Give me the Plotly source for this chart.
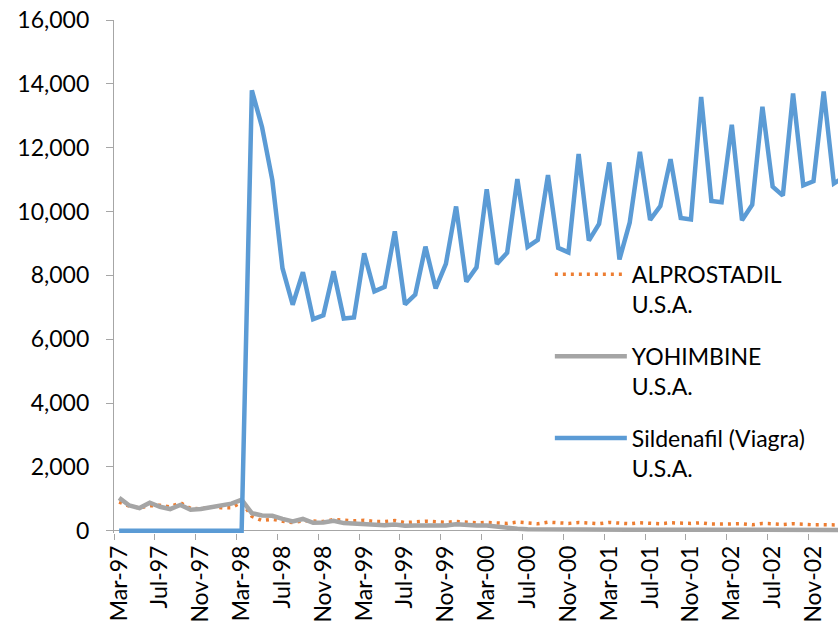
import plotly.graph_objects as go

months = [
    "Mar-97", "Apr-97", "May-97", "Jun-97", "Jul-97", "Aug-97", "Sep-97", "Oct-97", "Nov-97", "Dec-97",
    "Jan-98", "Feb-98", "Mar-98", "Apr-98", "May-98", "Jun-98", "Jul-98", "Aug-98", "Sep-98", "Oct-98",
    "Nov-98", "Dec-98", "Jan-99", "Feb-99", "Mar-99", "Apr-99", "May-99", "Jun-99", "Jul-99", "Aug-99",
    "Sep-99", "Oct-99", "Nov-99", "Dec-99", "Jan-00", "Feb-00", "Mar-00", "Apr-00", "May-00", "Jun-00",
    "Jul-00", "Aug-00", "Sep-00", "Oct-00", "Nov-00", "Dec-00", "Jan-01", "Feb-01", "Mar-01", "Apr-01",
    "May-01", "Jun-01", "Jul-01", "Aug-01", "Sep-01", "Oct-01", "Nov-01", "Dec-01", "Jan-02", "Feb-02",
    "Mar-02", "Apr-02", "May-02", "Jun-02", "Jul-02", "Aug-02", "Sep-02", "Oct-02", "Nov-02", "Dec-02",
    "Jan-03", "Feb-03",
]

alprostadil = [
    900, 770, 720, 780, 800, 750, 880, 700, 690, 750,
    720, 720, 890, 450, 320, 360, 300, 255, 313, 310,
    292, 350, 320, 313, 330, 292, 292, 320, 255, 271,
    300, 282, 261, 292, 271, 250, 261, 240, 230, 271,
    240, 220, 270, 240, 230, 261, 240, 219, 261, 230,
    219, 250, 240, 219, 250, 230, 230, 250, 209, 209,
    219, 219, 188, 230, 219, 198, 219, 198, 188, 188,
    177, 180,
]

yohimbine = [
    1030, 790, 710, 880, 750, 680, 810, 660, 680, 740,
    800, 850, 970, 550, 480, 470, 370, 290, 370, 250,
    260, 315, 240, 220, 220, 180, 170, 195, 160, 167,
    157, 146, 167, 205, 177, 167, 167, 125, 80, 65,
    50, 45, 40, 40, 38, 36, 35, 36, 33, 34,
    32, 33, 31, 30, 32, 30, 29, 30, 28, 29,
    30, 28, 27, 28, 26, 27, 26, 25, 26, 25,
    25, 25,
]

sildenafil = [
    0, 0, 0, 0, 0, 0, 0, 0, 0, 0,
    0, 0, 0, 13800, 12640, 10990, 8225, 7080, 8100, 6630,
    6750, 8130, 6650, 6680, 8690, 7500, 7640, 9380, 7090, 7400,
    8900, 7590, 8360, 10160, 7800, 8250, 10700, 8360, 8710, 11020,
    8890, 9110, 11140, 8860, 8720, 11800, 9090, 9610, 11540, 8500,
    9650, 11870, 9740, 10170, 11640, 9800, 9750, 13590, 10330, 10290,
    12720, 9730, 10210, 13280, 10780, 10500, 13700, 10820, 10950, 13760,
    10880, 11080,
]

AXIS = "#A6A6A6"
FONT = "Lato"

fig = go.Figure()
fig.add_trace(go.Scatter(
    x=months, y=alprostadil, name="ALPROSTADIL<br>U.S.A.", mode="lines",
    line=dict(color="#ED7D31", width=3.5, dash="3px,5px"), legendgroup="a",
))
fig.add_trace(go.Scatter(
    x=months, y=yohimbine, name="YOHIMBINE<br>U.S.A.", mode="lines",
    line=dict(color="#A5A5A5", width=4.5), legendgroup="b",
))
fig.add_trace(go.Scatter(
    x=months, y=sildenafil, name="Sildenafil (Viagra)<br>U.S.A.", mode="lines",
    line=dict(color="#5B9BD5", width=4.5), legendgroup="c",
))

fig.update_layout(
    width=838, height=631,
    margin=dict(l=114, r=0, t=20, b=98, autoexpand=False),
    plot_bgcolor="white", paper_bgcolor="white",
    font=dict(family=FONT, size=23, color="#000000"),
    showlegend=True,
    xaxis=dict(
        type="category", range=[-0.5, 70.4], tickmode="linear", tick0=0, dtick=4,
        tickangle=-90, tickson="boundaries", ticks="outside", ticklen=6,
        tickcolor=AXIS, tickwidth=1.3, showline=False, showgrid=False, zeroline=False,
        ticklabelstandoff=7, automargin=False, ticklabeloverflow="allow",
    ),
    yaxis=dict(
        range=[-70, 16000], tickmode="linear", tick0=0, dtick=2000, tickformat=",",
        ticks="outside", ticklen=7, tickcolor=AXIS, tickwidth=1.3,
        showline=True, linecolor=AXIS, linewidth=1.3, showgrid=False,
        zeroline=True, zerolinecolor=AXIS, zerolinewidth=1.3,
        ticklabelstandoff=12, automargin=False, ticklabeloverflow="allow",
    ),
    legend=dict(
        x=0.602, y=0.546, xanchor="left", yanchor="top", valign="top",
        itemwidth=72, tracegroupgap=19, traceorder="grouped",
        bgcolor="rgba(0,0,0,0)", font=dict(family=FONT, size=23, color="#000000"),
    ),
)

fig.write_html(
    "out.html",
    config={"displayModeBar": False},
    post_script="document.body.style.margin='0px';",
)
